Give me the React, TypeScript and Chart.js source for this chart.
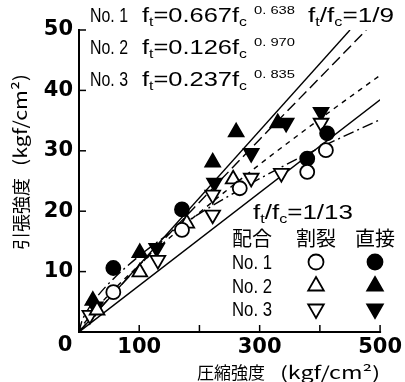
import React, { useEffect, useRef } from "react";
import { Chart, registerables } from "chart.js";

Chart.register(...registerables);

// ---------- axes ----------
const xTickValues = [0, 100, 200, 300, 400, 500];
const xTickLabels = ["", "100", "", "300", "", "500"];
const yTickValues = [0, 10, 20, 30, 40, 50];
const yTickLabels = ["", "10", "20", "30", "40", "50"];

// ---------- measured points (fc, ft) ----------
const no1SplitFc = [57, 171, 267, 379, 410];
const no1SplitFt = [6.6, 16.9, 23.8, 26.5, 30.1];
const no1DirectFc = [57, 171, 379, 412];
const no1DirectFt = [10.6, 20.3, 28.7, 32.9];

const no2SplitFc = [30, 101, 179, 256];
const no2SplitFt = [3.6, 9.9, 18.0, 25.3];
const no2DirectFc = [23, 101, 222, 261, 330];
const no2DirectFt = [5.2, 13.1, 28.1, 33.1, 34.6];

const no3SplitFc = [18, 131, 222, 222, 286, 336, 402];
const no3SplitFt = [2.8, 11.9, 19.4, 22.7, 25.5, 26.3, 34.6];
const no3DirectFc = [27, 129, 225, 286, 344, 402];
const no3DirectFt = [4.2, 13.9, 24.7, 29.6, 34.6, 36.4];

// ---------- fitted curves / ratio lines ----------
const fitFc = [0, 5, 10, 25, 50, 100, 150, 200, 300, 400, 500];
const fit1Ft = [0, 1.86, 2.9, 5.2, 8.09, 12.59, 16.31, 19.6, 25.39, 30.5, 35.16];
const fit2Fc = [0, 5, 10, 25, 50, 100, 150, 200, 300, 400, 477];
const fit2Ft = [0, 0.6, 1.18, 2.86, 5.6, 10.97, 16.27, 21.49, 31.88, 42.1, 50.0];
const fit3Ft = [0, 0.91, 1.62, 3.48, 6.21, 11.08, 15.55, 19.77, 27.75, 35.27, 42.5];
const ratio9Fc = [0, 450];
const ratio9Ft = [0, 50];
const ratio13Fc = [0, 500];
const ratio13Ft = [0, 38.46];

// ---------- texts ----------
const eqNos = ["No. 1", "No. 2", "No. 3"];
const eqCoefs = ["0.667", "0.126", "0.237"];
const eqExps = ["0. 638", "0. 970", "0. 835"];
const legendHeader = ["配合", "割裂", "直接"];
const legendRows = ["No. 1", "No. 2", "No. 3"];
const yTitleJa = "引張強度";
const xTitleJa = "圧縮強度";
const unitText = "(kgf/cm²)";

const JA = "'Noto Sans CJK JP', sans-serif";
const EQ = "'Liberation Sans', sans-serif";
const TICK = "'DejaVu Sans', sans-serif";

const pts = (xs: number[], ys: number[]) => xs.map((x, i) => ({ x, y: ys[i] }));

type Seg = { t: string; k?: "sub" | "sup" };

function drawRich(ctx: CanvasRenderingContext2D, segs: Seg[], x: number, baseY: number, size: number, family: string, targetW?: number) {
  const fontFor = (k?: string) => `${k === "sub" ? size * 0.62 : k === "sup" ? size * 0.58 : size}px ${family}`;
  let w = 0;
  const widths = segs.map((s) => {
    ctx.font = fontFor(s.k);
    const m = ctx.measureText(s.t).width;
    w += m;
    return m;
  });
  const sx = targetW ? targetW / w : 1;
  ctx.save();
  ctx.translate(x, baseY);
  ctx.scale(sx, 1);
  ctx.textAlign = "left";
  ctx.textBaseline = "alphabetic";
  ctx.fillStyle = "#000";
  let cx = 0;
  segs.forEach((s, i) => {
    ctx.font = fontFor(s.k);
    const dy = s.k === "sub" ? size * 0.2 : s.k === "sup" ? -size * 0.42 : 0;
    ctx.fillText(s.t, cx, dy);
    cx += widths[i];
  });
  ctx.restore();
}

function drawMarker(ctx: CanvasRenderingContext2D, kind: string, x: number, y: number, filled: boolean) {
  ctx.save();
  ctx.beginPath();
  if (kind === "circle") {
    ctx.arc(x, y, 7.5, 0, Math.PI * 2);
  } else {
    const r = 9;
    const dir = kind === "up" ? 1 : -1;
    ctx.moveTo(x, y - dir * r);
    ctx.lineTo(x + r * 0.866, y + dir * r * 0.5);
    ctx.lineTo(x - r * 0.866, y + dir * r * 0.5);
    ctx.closePath();
  }
  ctx.fillStyle = filled ? "#000" : "#fff";
  ctx.fill();
  ctx.lineWidth = 1.8;
  ctx.strokeStyle = "#000";
  ctx.stroke();
  ctx.restore();
}

const axesPlugin = {
  id: "axesPlugin",
  beforeDatasetsDraw(chart: any) {
    const ctx = chart.ctx as CanvasRenderingContext2D;
    const xs = chart.scales.x;
    const ys = chart.scales.y;
    const left = xs.getPixelForValue(0);
    const bottom = ys.getPixelForValue(0);
    ctx.save();
    ctx.strokeStyle = "#000";
    ctx.lineWidth = 2;
    ctx.beginPath();
    ctx.moveTo(left, ys.getPixelForValue(50) - 1);
    ctx.lineTo(left, bottom);
    ctx.lineTo(xs.getPixelForValue(500) + 1, bottom);
    ctx.stroke();
    ctx.lineWidth = 1.5;
    yTickValues.forEach((v) => {
      if (v === 0) return;
      const py = ys.getPixelForValue(v);
      ctx.beginPath();
      ctx.moveTo(left, py);
      ctx.lineTo(left + 7, py);
      ctx.stroke();
    });
    xTickValues.forEach((v) => {
      if (v === 0) return;
      const px = xs.getPixelForValue(v);
      ctx.beginPath();
      ctx.moveTo(px, bottom);
      ctx.lineTo(px, bottom - 7);
      ctx.stroke();
    });
    ctx.restore();
  },
  afterDraw(chart: any) {
    const ctx = chart.ctx as CanvasRenderingContext2D;
    ctx.save();
    ctx.fillStyle = "#000";
    // shared origin "0"
    ctx.font = `bold 21px ${TICK}`;
    ctx.textAlign = "center";
    ctx.textBaseline = "middle";
    ctx.fillText("0", 65, 346);

    // equations
    const bases = [22, 54, 86];
    eqNos.forEach((no, i) => {
      drawRich(ctx, [{ t: no }], 90, bases[i], 20, EQ, 38);
      drawRich(
        ctx,
        [{ t: "f" }, { t: "t", k: "sub" }, { t: "=" + eqCoefs[i] + "f" }, { t: "c", k: "sub" }, { t: " " }, { t: eqExps[i], k: "sup" }],
        142,
        bases[i],
        20,
        EQ,
        153
      );
    });
    drawRich(ctx, [{ t: "f" }, { t: "t", k: "sub" }, { t: "/f" }, { t: "c", k: "sub" }, { t: "=1/9" }], 308, 22, 20, EQ, 86);

    // 1/13 label
    drawRich(ctx, [{ t: "f" }, { t: "t", k: "sub" }, { t: "/f" }, { t: "c", k: "sub" }, { t: "=1/13" }], 253, 219, 20, EQ, 100);

    // legend header
    ctx.font = `20px ${JA}`;
    ctx.textAlign = "center";
    ctx.textBaseline = "middle";
    const colX = [252, 316, 375];
    legendHeader.forEach((h, i) => ctx.fillText(h, colX[i], 238));
    const rowY = [262, 286, 309];
    const kinds = ["circle", "up", "down"];
    legendRows.forEach((r, i) => {
      drawRich(ctx, [{ t: r }], 232, rowY[i] + 7, 20, EQ, 40);
      drawMarker(ctx, kinds[i], colX[1], rowY[i], false);
      drawMarker(ctx, kinds[i], colX[2], rowY[i], true);
    });

    // x title
    ctx.textAlign = "left";
    ctx.textBaseline = "middle";
    ctx.font = `17px ${JA}`;
    ctx.fillText(xTitleJa, 197, 373);
    drawRich(ctx, [{ t: unitText }], 280, 379, 17, JA, 100);

    // y title
    ctx.save();
    ctx.translate(21, 160);
    ctx.rotate(-Math.PI / 2);
    ctx.font = `18px ${JA}`;
    ctx.textBaseline = "middle";
    ctx.textAlign = "left";
    ctx.fillText(yTitleJa, -90, 0);
    drawRich(ctx, [{ t: unitText }], -6, 6, 18, JA, 92);
    ctx.restore();

    ctx.restore();
  },
};

export default function App() {
  const ref = useRef<HTMLCanvasElement>(null);
  useEffect(() => {
    if (!ref.current) return;
    const lineDs = (label: string, xs: number[], ys: number[], dash: number[], width = 1.4) => ({
      label,
      data: pts(xs, ys),
      showLine: true,
      pointRadius: 0,
      borderColor: "#000",
      borderWidth: width,
      borderDash: dash,
      fill: false,
      cubicInterpolationMode: "monotone" as const,
      order: 2,
    });
    const pointDs = (label: string, xs: number[], ys: number[], style: string, rot: number, filled: boolean) => ({
      label,
      data: pts(xs, ys),
      showLine: false,
      pointStyle: style,
      rotation: rot,
      pointRadius: style === "circle" ? 7 : 8.5,
      backgroundColor: filled ? "#000" : "#fff",
      borderColor: "#000",
      borderWidth: 1.8,
      order: 1,
    });
    const chart = new Chart(ref.current, {
      type: "scatter",
      data: {
        datasets: [
          lineDs("ft/fc=1/9", ratio9Fc, ratio9Ft, []),
          lineDs("No.2 fit", fit2Fc, fit2Ft, [11, 5]),
          lineDs("No.3 fit", fitFc, fit3Ft, [5, 5]),
          lineDs("ft/fc=1/13", ratio13Fc, ratio13Ft, []),
          lineDs("No.1 fit", fitFc, fit1Ft, [11, 4, 2, 4]),
          pointDs("No.1 割裂", no1SplitFc, no1SplitFt, "circle", 0, false),
          pointDs("No.1 直接", no1DirectFc, no1DirectFt, "circle", 0, true),
          pointDs("No.2 割裂", no2SplitFc, no2SplitFt, "triangle", 0, false),
          pointDs("No.2 直接", no2DirectFc, no2DirectFt, "triangle", 0, true),
          pointDs("No.3 割裂", no3SplitFc, no3SplitFt, "triangle", 180, false),
          pointDs("No.3 直接", no3DirectFc, no3DirectFt, "triangle", 180, true),
        ] as any,
      },
      options: {
        animation: false,
        responsive: true,
        maintainAspectRatio: false,
        layout: { padding: { top: 30, right: 24, left: 0, bottom: 0 } },
        plugins: { legend: { display: false }, tooltip: { enabled: false } },
        scales: {
          x: {
            type: "linear",
            min: 0,
            max: 500,
            grid: { display: false, drawTicks: false },
            border: { display: false },
            afterBuildTicks: (s: any) => {
              s.ticks = xTickValues.map((v) => ({ value: v }));
            },
            afterFit: (s: any) => {
              s.height = 50;
            },
            ticks: {
              autoSkip: false,
              maxRotation: 0,
              padding: 3,
              color: "#000",
              font: { family: TICK, weight: "bold", size: 21 },
              callback: (_v: any, i: number) => xTickLabels[i],
            },
          },
          y: {
            type: "linear",
            min: 0,
            max: 50,
            grid: { display: false, drawTicks: false },
            border: { display: false },
            afterBuildTicks: (s: any) => {
              s.ticks = yTickValues.map((v) => ({ value: v }));
            },
            afterFit: (s: any) => {
              s.width = 79;
            },
            ticks: {
              autoSkip: false,
              padding: 6,
              color: "#000",
              font: { family: TICK, weight: "bold", size: 21 },
              callback: (_v: any, i: number) => yTickLabels[i],
            },
          },
        },
      } as any,
      plugins: [axesPlugin],
    });
    return () => chart.destroy();
  }, []);
  return (
    <div style={{ position: "fixed", left: 0, top: 0, width: 405, height: 382, background: "#fff" }}>
      <canvas ref={ref} />
    </div>
  );
}
